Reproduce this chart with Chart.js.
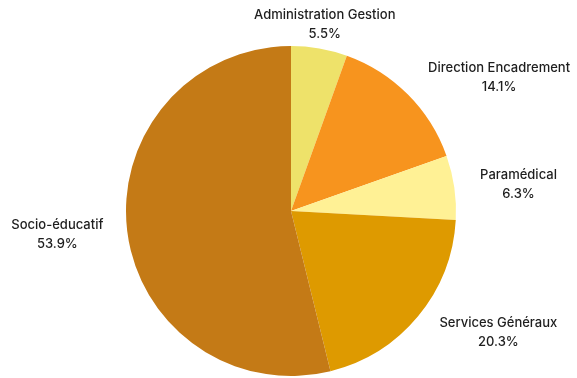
<!DOCTYPE html>
<html lang="fr">
<head>
    <meta charset="UTF-8">
    <title>Répartition par catégorie</title>
    <script src="https://cdn.jsdelivr.net/npm/chart.js"></script>
    <style>
        body { margin: 0; background: #fff; }
        #wrap { width: 577px; height: 378px; }
    </style>
</head>
<body>
    <div id="wrap"><canvas id="pieChart" width="577" height="378"></canvas></div>
    <script>
        const categories = ['Administration Gestion', 'Direction Encadrement', 'Paramédical', 'Services Généraux', 'Socio-éducatif'];
        const shares = [5.5, 14.1, 6.3, 20.3, 53.9];
        const sliceColors = ['#EEE26A', '#F7941E', '#FFF195', '#DE9A00', '#C47A16'];

        // labels outside each slice: name on first line, percentage below
        const outsideLabels = {
            id: 'outsideLabels',
            afterDatasetsDraw(chart) {
                const ctx = chart.ctx;
                const meta = chart.getDatasetMeta(0);
                ctx.save();
                ctx.font = '500 13px Inter, "Noto Sans", sans-serif';
                ctx.fillStyle = '#1e1e1e';
                ctx.textBaseline = 'middle';
                meta.data.forEach((arc, i) => {
                    const mid = (arc.startAngle + arc.endAngle) / 2;
                    const dx = Math.cos(mid), dy = Math.sin(mid);
                    const r = arc.outerRadius + 20;
                    const align = dx > 0.3 ? 'left' : (dx < -0.3 ? 'right' : 'center');
                    const gap = align === 'left' ? 6 : (align === 'right' ? -4 : 2);
                    const ax = arc.x + dx * r + gap;
                    const ay = arc.y + dy * r + dy * 5;
                    const w = ctx.measureText(categories[i]).width;
                    let cx = ax;
                    if (align === 'left') cx = ax + w / 2;
                    if (align === 'right') cx = ax - w / 2;
                    ctx.textAlign = 'center';
                    ctx.fillText(categories[i], cx, ay - 9);
                    ctx.fillText(shares[i].toFixed(1) + '%', cx, ay + 10);
                });
                ctx.restore();
            }
        };

        new Chart(document.getElementById('pieChart'), {
            type: 'pie',
            data: {
                labels: categories,
                datasets: [{ data: shares, backgroundColor: sliceColors, borderWidth: 0 }]
            },
            options: {
                responsive: false,
                animation: false,
                layout: { padding: { top: 46, bottom: 2, left: 5, right: 0 } },
                plugins: { legend: { display: false }, tooltip: { enabled: false } },
                events: []
            },
            plugins: [outsideLabels]
        });
    </script>
</body>
</html>
